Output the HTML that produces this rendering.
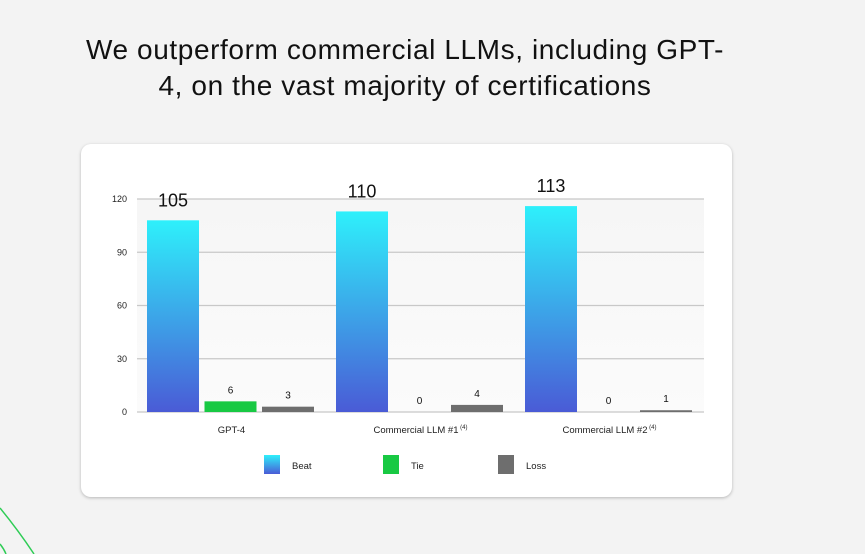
<!DOCTYPE html>
<html><head><meta charset="utf-8"><style>
body{margin:0;width:865px;height:554px;background:#f3f3f3;font-family:"Liberation Sans",sans-serif;overflow:hidden;position:relative}
.title{position:absolute;left:40px;width:730px;top:32px;text-align:center;font-size:28px;line-height:36px;color:#111;letter-spacing:0.6px}
.card{position:absolute;left:81px;top:144px;width:651px;height:353px;background:#fff;border-radius:10px;box-shadow:0 1px 3px rgba(0,0,0,.25)}
svg{position:absolute;left:0;top:0}
</style></head><body>
<svg width="865" height="554"><path d="M0 508 Q18 530 34 554" stroke="#2ecc55" stroke-width="1.5" fill="none"/><path d="M0 544 Q4 549 6 554" stroke="#2ecc55" stroke-width="1.5" fill="none"/></svg>
<div class="title">We outperform commercial LLMs, including GPT-<br>4, on the vast majority of certifications</div>
<div class="card"></div>
<svg id="chart" width="865" height="554">
<defs><linearGradient id="gb" x1="0" y1="0" x2="0" y2="1"><stop offset="0" stop-color="#2ef0fb"/><stop offset="1" stop-color="#4a5bd6"/></linearGradient>
<linearGradient id="pbg" x1="0" y1="0" x2="0" y2="1"><stop offset="0" stop-color="#f6f6f6"/><stop offset="1" stop-color="#fbfbfb"/></linearGradient></defs>
</svg>
<script>
const categories=["GPT-4","Commercial LLM #1","Commercial LLM #2"];
const beatValues=[108,113,116];
const beatLabels=["105","110","113"];
const tieValues=[6,0,0];
const lossValues=[3,4,1];
const yTicks=[0,30,60,90,120];
const svg=document.getElementById('chart');
const NS='http://www.w3.org/2000/svg';
const x0=137,x1=704,yBase=412,yTop=199,yMax=120;
const y=v=>yBase-(v/yMax)*(yBase-yTop);
const gW=(x1-x0)/categories.length;
function el(t,a,txt){const e=document.createElementNS(NS,t);for(const k in a)e.setAttribute(k,a[k]);if(txt!=null)e.textContent=txt;svg.appendChild(e);return e;}
let bg=el('rect',{x:x0,y:yTop,width:x1-x0,height:yBase-yTop,fill:'url(#pbg)'});


yTicks.forEach(t=>{
 let l=el('line',{x1:x0,x2:x1,y1:y(t),y2:y(t),stroke:'#c8c8c8','stroke-width':1.2});
 
 
 let tx=el('text',{x:127,y:y(t)+3,'text-anchor':'end','font-size':9,fill:'#222'},t);
 
 
});
const bw=52;
categories.forEach((c,i)=>{
 const gx=x0+gW*i+10;
 const series=[[beatValues[i],'url(#gb)','bar-beat'],[tieValues[i],'#18c943','bar-tie'],[lossValues[i],'#6e6e6e','bar-loss']];
 series.forEach((s,j)=>{
  const bx=gx+j*57.5;
  let r=el('rect',{x:bx,y:y(s[0]),width:bw,height:yBase-y(s[0]),fill:s[1]});
  
  
  let lbl = j===0? beatLabels[i] : String(s[0]);
  let t=el('text',{x:bx+bw/2,y:j===0?y(s[0])-14:y(s[0])-8,'text-anchor':'middle','font-size':j===0?18:10,fill:'#111'},lbl);
  
  
 });
 let ct=el('text',{x:x0+gW*i+gW/2,y:433,'text-anchor':'middle','font-size':9.5,fill:'#222'},c);
 
 
 if(i>0){let sup=el('tspan',{'font-size':6,dy:-4},' (4)');ct.appendChild(sup);}
});
const legend=[['Beat','url(#gb)',264],['Tie','#18c943',383],['Loss','#6e6e6e',498]];
legend.forEach(L=>{
 let r=el('rect',{x:L[2],y:455,width:16,height:19,fill:L[1]});
 
 
 let t=el('text',{x:L[2]+28,y:469,'font-size':9.5,fill:'#222'},L[0]);
 
 
});
</script>
</body></html>
